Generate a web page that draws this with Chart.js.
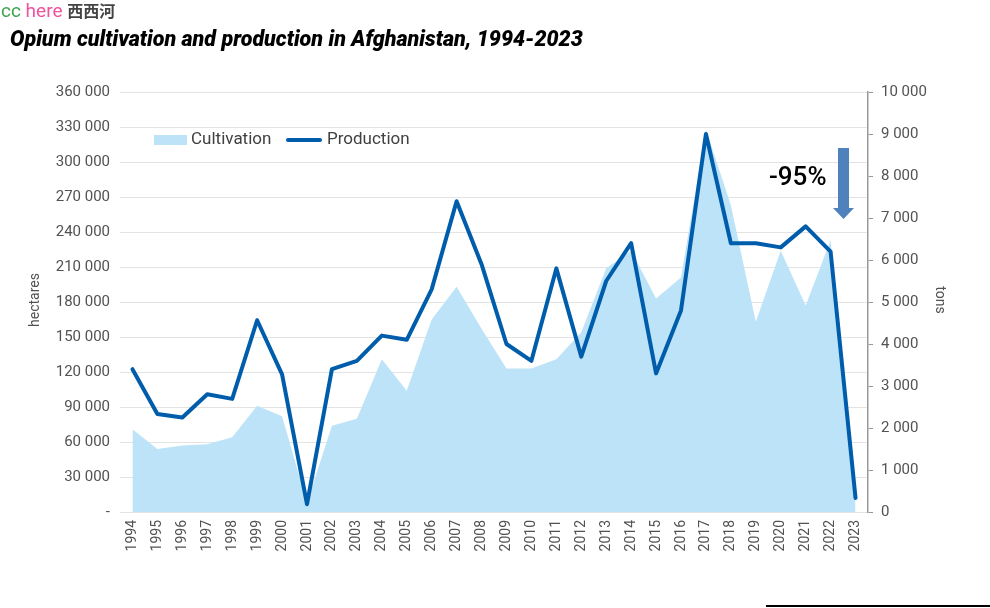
<!DOCTYPE html>
<html>
<head>
<meta charset="utf-8">
<script src="https://cdn.jsdelivr.net/npm/chart.js@4/dist/chart.umd.min.js"></script>
<style>
  html, body { margin: 0; padding: 0; background: #fff; }
  #wrap { position: relative; width: 990px; height: 608px; overflow: hidden; }
  #chart { position: absolute; left: 0; top: 0; }
  .mark { position: absolute; left: 1px; top: -2px; font: 19px Roboto, sans-serif; }
  .mark .cc { color: #3fa34d; }
  .mark .here { color: #f0529c; }
  .mark .zh { color: #444; font-family: "Noto Sans CJK SC", sans-serif; font-size: 16px; font-weight: 700; }
  .title { position: absolute; left: 10px; top: 26px; font: italic 900 21.5px Roboto, sans-serif; color: #000; }
  .foot { position: absolute; left: 766px; top: 605px; width: 224px; height: 2px; background: #000; }
</style>
</head>
<body>
<div id="wrap">
  <canvas id="chart" width="990" height="608"></canvas>
  <div class="mark"><span class="cc">cc</span> <span class="here">here</span> <span class="zh">西西河</span></div>
  <div class="title">Opium cultivation and production in Afghanistan, 1994-2023</div>
  <div class="foot"></div>
</div>
<script>
const years = ['1994','1995','1996','1997','1998','1999','2000','2001','2002','2003','2004','2005','2006','2007','2008',
  '2009','2010','2011','2012','2013','2014','2015','2016','2017','2018','2019','2020','2021','2022','2023'];
// hectares
const cultivation = [71000, 54000, 57000, 58000, 64000, 91000, 82000, 8000, 74000, 80000, 131000, 104000, 165000, 193000, 157000,
  123000, 123000, 131000, 154000, 209000, 224000, 183000, 201000, 328000, 263000, 163000, 224000, 177000, 233000, 10800];
// tons
const production = [3400, 2335, 2248, 2804, 2693, 4565, 3276, 185, 3400, 3600, 4200, 4100, 5300, 7400, 5900,
  4000, 3600, 5800, 3700, 5500, 6400, 3300, 4800, 9000, 6400, 6400, 6300, 6800, 6200, 333];

const fillColor = '#bde3f8';
const lineColor = '#005dab';
const tickColor = '#525252';

function spaced(v) {
  return String(v).replace(/\B(?=(\d{3})+(?!\d))/g, ' ');
}

// legend, axis titles and the -95% arrow
const extras = {
  id: 'extras',
  afterDraw(chart) {
    const ctx = chart.ctx;
    ctx.save();
    // legend
    ctx.fillStyle = fillColor;
    ctx.fillRect(154, 135, 33, 10);
    ctx.strokeStyle = lineColor;
    ctx.lineWidth = 4;
    ctx.lineCap = 'round';
    ctx.beginPath();
    ctx.moveTo(288, 140);
    ctx.lineTo(320, 140);
    ctx.stroke();
    ctx.font = '17px Roboto';
    ctx.fillStyle = '#404040';
    ctx.textBaseline = 'middle';
    ctx.fillText('Cultivation', 191, 140);
    ctx.fillText('Production', 327, 140);

    // axis titles
    ctx.font = '14px Roboto';
    ctx.fillStyle = tickColor;
    ctx.textAlign = 'center';
    ctx.save();
    ctx.translate(35, 300);
    ctx.rotate(-Math.PI / 2);
    ctx.fillText('hectares', 0, 0);
    ctx.restore();
    ctx.save();
    ctx.translate(939, 300);
    ctx.rotate(Math.PI / 2);
    ctx.fillText('tons', 0, 0);
    ctx.restore();

    // -95% note
    ctx.font = '500 26px Roboto';
    ctx.fillStyle = '#000';
    ctx.textAlign = 'left';
    ctx.fillText('-95%', 769, 178);
    ctx.fillStyle = '#4f81bd';
    ctx.beginPath();
    ctx.moveTo(838, 148);
    ctx.lineTo(849, 148);
    ctx.lineTo(849, 208);
    ctx.lineTo(854, 208);
    ctx.lineTo(843.5, 219);
    ctx.lineTo(833, 208);
    ctx.lineTo(838, 208);
    ctx.closePath();
    ctx.fill();
    ctx.restore();
  }
};

new Chart(document.getElementById('chart'), {
  data: {
    labels: years,
    datasets: [
      {
        type: 'line',
        label: 'Production',
        data: production,
        yAxisID: 'y1',
        borderColor: lineColor,
        borderWidth: 4,
        borderJoinStyle: 'round',
        borderCapStyle: 'round',
        pointRadius: 0,
        tension: 0,
        fill: false,
        order: 0
      },
      {
        type: 'line',
        label: 'Cultivation',
        data: cultivation,
        yAxisID: 'y',
        borderWidth: 0,
        borderColor: fillColor,
        backgroundColor: fillColor,
        pointRadius: 0,
        tension: 0,
        fill: 'origin',
        order: 1
      }
    ]
  },
  options: {
    responsive: false,
    animation: false,
    layout: { padding: { top: 92, left: 0, right: 0, bottom: 0 } },
    plugins: {
      legend: { display: false },
      tooltip: { enabled: false }
    },
    scales: {
      x: {
        offset: true,
        grid: { display: false, drawTicks: false },
        border: { display: false },
        ticks: {
          color: tickColor,
          font: { family: 'Roboto', size: 14 },
          minRotation: 90,
          maxRotation: 90,
          autoSkip: false,
          padding: 8
        },
        afterFit(s) { s.height = 96; }
      },
      y: {
        position: 'left',
        min: 0,
        max: 360000,
        grid: { color: '#e3e3e3', drawTicks: false },
        border: { display: false },
        ticks: {
          stepSize: 30000,
          color: tickColor,
          font: { family: 'Roboto', size: 15 },
          padding: 10,
          callback: v => v === 0 ? '-' : spaced(v)
        },
        afterFit(s) { s.width = 120; }
      },
      y1: {
        position: 'right',
        min: 0,
        max: 10000,
        grid: { drawOnChartArea: false, color: '#999', tickLength: 5 },
        border: { display: true, color: '#999', width: 1.5 },
        ticks: {
          stepSize: 1000,
          color: tickColor,
          font: { family: 'Roboto', size: 15 },
          padding: 8,
          callback: v => spaced(v)
        },
        afterFit(s) { s.width = 122; }
      }
    }
  },
  plugins: [extras]
});
</script>
</body>
</html>
